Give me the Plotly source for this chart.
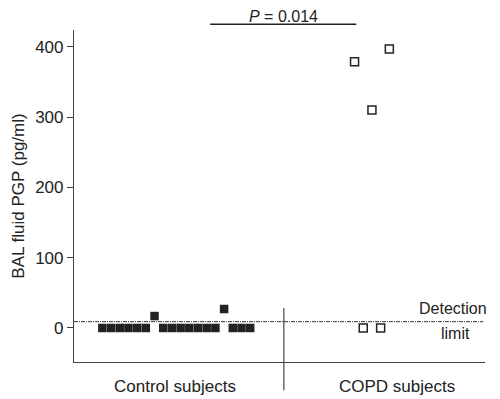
import plotly.graph_objects as go

# Data (subject slot along x, PGP value in pg/ml)
control_slot = list(range(0, 18))
control_pgp = [0, 0, 0, 0, 0, 0, 17, 0, 0, 0, 0, 0, 0, 0, 27, 0, 0, 0]
copd_slot = [29, 30, 31, 32, 33]
copd_pgp = [379, 0, 310, 0, 397]
detection_limit = 9
y_ticks = [0, 100, 200, 300, 400]
group_labels = ["Control subjects", "COPD subjects"]
p_text = "<i>P</i> = 0.014"

FONT = "Liberation Sans, Arial, sans-serif"
INK = "#222222"

fig = go.Figure()
fig.add_trace(go.Scatter(
    x=control_slot, y=control_pgp, mode="markers",
    marker=dict(symbol="square", size=8.5, color=INK, line=dict(width=0)),
    showlegend=False))
fig.add_trace(go.Scatter(
    x=copd_slot, y=copd_pgp, mode="markers",
    marker=dict(symbol="square-open", size=8, color=INK, line=dict(width=1.5)),
    showlegend=False))

x0, x1 = -3.26, 44.0
div_x = 20.87

# detection limit line
fig.add_shape(type="line", x0=x0, x1=43.8, y0=detection_limit, y1=detection_limit,
              xref="x", yref="y", line=dict(color="#333333", width=1, dash="4px,1px,1px,1px"))
# group divider
fig.add_shape(type="line", x0=div_x, x1=div_x, y0=0.163, y1=-0.085,
              xref="x", yref="paper", line=dict(color="#444444", width=1.2))
# significance bracket
fig.add_shape(type="line", x0=12.4, x1=29.2, y0=1.017, y1=1.017,
              xref="x", yref="paper", line=dict(color=INK, width=1.5))

def note(x, y, text, xref="x", yref="paper", size=17):
    fig.add_annotation(x=x, y=y, xref=xref, yref=yref, text=text, showarrow=False,
                       xanchor="center", yanchor="middle",
                       font=dict(size=size, color=INK, family=FONT))

note(20.8, 1.041, p_text, size=16)
note(8.3, -0.075, group_labels[0])
note(33.9, -0.075, group_labels[1])
note(40.3, 28, "Detection", yref="y", size=16)
note(40.6, -8, "limit", yref="y", size=16)

fig.update_xaxes(range=[x0, x1], showgrid=False, zeroline=False, showticklabels=False,
                 showline=True, linecolor="#444444", linewidth=1.2, ticks="")
fig.update_yaxes(range=[-48.4, 424], tickvals=y_ticks, showgrid=False, zeroline=False,
                 showline=True, linecolor="#444444", linewidth=1.2, ticks="outside",
                 ticklen=6, tickcolor="#444444", tickfont=dict(size=17, color=INK, family=FONT),
                 automargin=False,
                 title=dict(text="BAL fluid PGP (pg/ml)", font=dict(size=17, color=INK, family=FONT),
                            standoff=6))

# page body adds an 8px margin, so the figure is 8px smaller and shifted
fig.update_layout(width=492, height=391, margin=dict(l=66, r=15, t=22, b=37),
                  plot_bgcolor="white", paper_bgcolor="white", showlegend=False)

fig.write_html("out.html")
